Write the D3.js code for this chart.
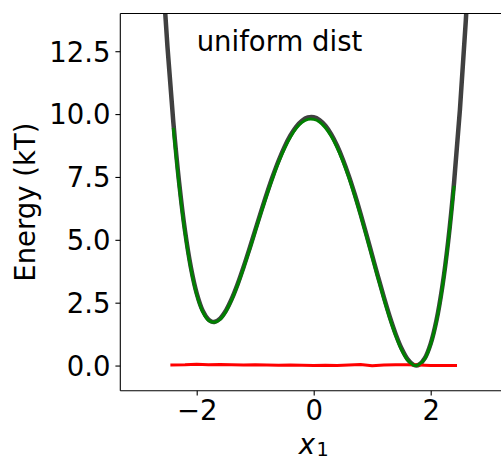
<!DOCTYPE html>
<html>
<head>
<meta charset="utf-8">
<script src="https://cdn.jsdelivr.net/npm/d3@7"></script>
<style>
  html, body { margin: 0; padding: 0; background: #fff; }
  svg { display: block; }
  text { font-family: "DejaVu Sans", sans-serif; fill: #000; }
</style>
</head>
<body>
<svg id="chart" width="501" height="461"></svg>
<script>
// Reference potential energy along x1 (kT)
const potX = [-2.6, -2.5, -2.4, -2.3, -2.2, -2.1, -2.0, -1.9, -1.8, -1.75, -1.7, -1.6, -1.5, -1.4, -1.3, -1.2, -1.1, -1.0,
  -0.9, -0.8, -0.7, -0.6, -0.5, -0.4, -0.3, -0.2, -0.1, 0.0, 0.1, 0.2, 0.3, 0.4, 0.5, 0.6, 0.7, 0.8, 0.9, 1.0,
  1.1, 1.2, 1.3, 1.4, 1.5, 1.6, 1.7, 1.75, 1.8, 1.9, 2.0, 2.1, 2.2, 2.3, 2.4, 2.5, 2.6, 2.7];
const potE = [16.311, 12.686, 9.691, 7.267, 5.359, 3.911, 2.873, 2.195, 1.831, 1.752, 1.735, 1.867, 2.186, 2.655, 3.239, 3.907, 4.627, 5.373,
  6.119, 6.843, 7.523, 8.143, 8.686, 9.139, 9.491, 9.735, 9.863, 9.873, 9.763, 9.535, 9.191, 8.739, 8.186, 7.543, 6.823, 6.043, 5.219, 4.373,
  3.527, 2.707, 1.939, 1.255, 0.686, 0.267, 0.035, 0.002, 0.031, 0.295, 0.873, 1.811, 3.159, 4.967, 7.291, 10.186, 13.711, 17.927];

// Energy estimated from samples of the generated distribution
const estX = [-2.4, -2.3, -2.2, -2.1, -2.0, -1.9, -1.8, -1.7, -1.6, -1.5, -1.4, -1.3, -1.2, -1.1, -1.0,
  -0.9, -0.8, -0.7, -0.6, -0.5, -0.4, -0.3, -0.2, -0.1, 0.0, 0.1, 0.2, 0.3, 0.4, 0.5, 0.6, 0.7, 0.8, 0.9, 1.0,
  1.1, 1.2, 1.3, 1.4, 1.5, 1.6, 1.7, 1.75, 1.8, 1.9, 2.0, 2.1, 2.2, 2.3, 2.4];
const estE = [9.45, 7.15, 5.28, 3.85, 2.82, 2.15, 1.80, 1.72, 1.84, 2.15, 2.62, 3.20, 3.87, 4.58, 5.33,
  6.07, 6.79, 7.47, 8.09, 8.63, 9.08, 9.43, 9.67, 9.79, 9.79, 9.69, 9.46, 9.12, 8.67, 8.12, 7.48, 6.76, 5.98, 5.16, 4.31,
  3.47, 2.65, 1.88, 1.20, 0.63, 0.23, 0.03, 0.0, 0.04, 0.27, 0.85, 1.78, 3.12, 4.93, 7.15];

// Energy of the uniform reference distribution
const uniX = [-2.45, -2.2, -2.0, -1.8, -1.6, -1.4, -1.2, -1.0, -0.8, -0.6, -0.4, -0.2, 0.0,
  0.2, 0.4, 0.6, 0.8, 1.0, 1.2, 1.4, 1.6, 1.8, 2.0, 2.2, 2.45];
const uniE = [0.02, 0.03, 0.05, 0.03, 0.04, 0.03, 0.02, 0.03, 0.02, 0.01, 0.02, 0.01, 0.0,
  0.01, 0.0, 0.02, 0.04, -0.01, 0.02, 0.03, 0.03, 0.02, 0.0, 0.0, 0.0];

const yTicks = [0, 2.5, 5, 7.5, 10, 12.5];
const xTicks = [-2, 0, 2];
const panelLabel = "uniform dist";

const svg = d3.select("#chart");
const plotLeft = 120.3, plotRight = 507.1, plotTop = 13.5, plotBottom = 390.7;

const x = d3.scaleLinear().domain([-3.306, 3.306]).range([plotLeft, plotRight]);
const y = d3.scaleLinear().domain([-1, 14]).range([plotBottom, plotTop]);

svg.append("defs").append("clipPath").attr("id", "plotArea")
  .append("rect").attr("x", plotLeft).attr("y", plotTop)
  .attr("width", plotRight - plotLeft).attr("height", plotBottom - plotTop);

const plot = svg.append("g").attr("clip-path", "url(#plotArea)");

const zip = (xs, ys) => xs.map((v, i) => [v, ys[i]]);
const smooth = d3.line().x(d => x(d[0])).y(d => y(d[1])).curve(d3.curveCatmullRom.alpha(0.5));
const straight = d3.line().x(d => x(d[0])).y(d => y(d[1]));

plot.append("path").attr("d", smooth(zip(potX, potE)))
  .attr("fill", "none").attr("stroke", "#404040").attr("stroke-width", 4.5)
  .attr("stroke-linejoin", "round");

plot.append("path").attr("d", straight(zip(uniX, uniE)))
  .attr("fill", "none").attr("stroke", "#ff0000").attr("stroke-width", 3)
  .attr("stroke-linejoin", "round");

plot.append("path").attr("d", smooth(zip(estX, estE)))
  .attr("fill", "none").attr("stroke", "#008000").attr("stroke-width", 3)
  .attr("stroke-linejoin", "round");

// Axes
const fontSize = 27.5;
const yAxis = d3.axisLeft(y).tickValues(yTicks).tickSize(4.9).tickPadding(4.9)
  .tickFormat(d3.format(".1f"));
const gy = svg.append("g").attr("transform", `translate(${plotLeft},0)`).call(yAxis);
const xAxis = d3.axisBottom(x).tickValues(xTicks).tickSize(4.9).tickPadding(4.9)
  .tickFormat(d => d < 0 ? "\u2212" + Math.abs(d) : String(d));
const gx = svg.append("g").attr("transform", `translate(0,${plotBottom})`).call(xAxis);

[gx, gy].forEach(g => {
  g.select(".domain").remove();
  g.selectAll(".tick line").attr("stroke", "#000").attr("stroke-width", 1.1);
  g.selectAll(".tick text").attr("font-size", fontSize)
    .attr("font-family", "DejaVu Sans, sans-serif").attr("fill", "#000");
});
gy.selectAll(".tick text").attr("dy", "0.36em");
gx.selectAll(".tick text").attr("dy", "0.72em");

// Spines
const frame = [
  [plotLeft, plotTop, plotLeft, plotBottom],
  [plotLeft, plotBottom, plotRight, plotBottom],
  [plotLeft, plotTop, plotRight, plotTop],
  [plotRight, plotTop, plotRight, plotBottom]
];
svg.selectAll("line.spine").data(frame).join("line").attr("class", "spine")
  .attr("x1", d => d[0]).attr("y1", d => d[1]).attr("x2", d => d[2]).attr("y2", d => d[3])
  .attr("stroke", "#000").attr("stroke-width", 1.1);

// Panel label
svg.append("text").attr("x", x(-2)).attr("y", y(12.5))
  .attr("font-size", fontSize).text(panelLabel);

// Axis labels
svg.append("text")
  .attr("transform", `translate(35,${(plotTop + plotBottom) / 2}) rotate(-90)`)
  .attr("text-anchor", "middle").attr("font-size", fontSize)
  .text("Energy (kT)");

const xl = svg.append("text").attr("x", (plotLeft + plotRight) / 2).attr("y", 454)
  .attr("text-anchor", "middle").attr("font-size", fontSize);
xl.append("tspan").attr("font-style", "italic").text("x");
xl.append("tspan").attr("font-size", fontSize * 0.7).attr("dx", 1.5).attr("dy", 2).text("1");
</script>
</body>
</html>
